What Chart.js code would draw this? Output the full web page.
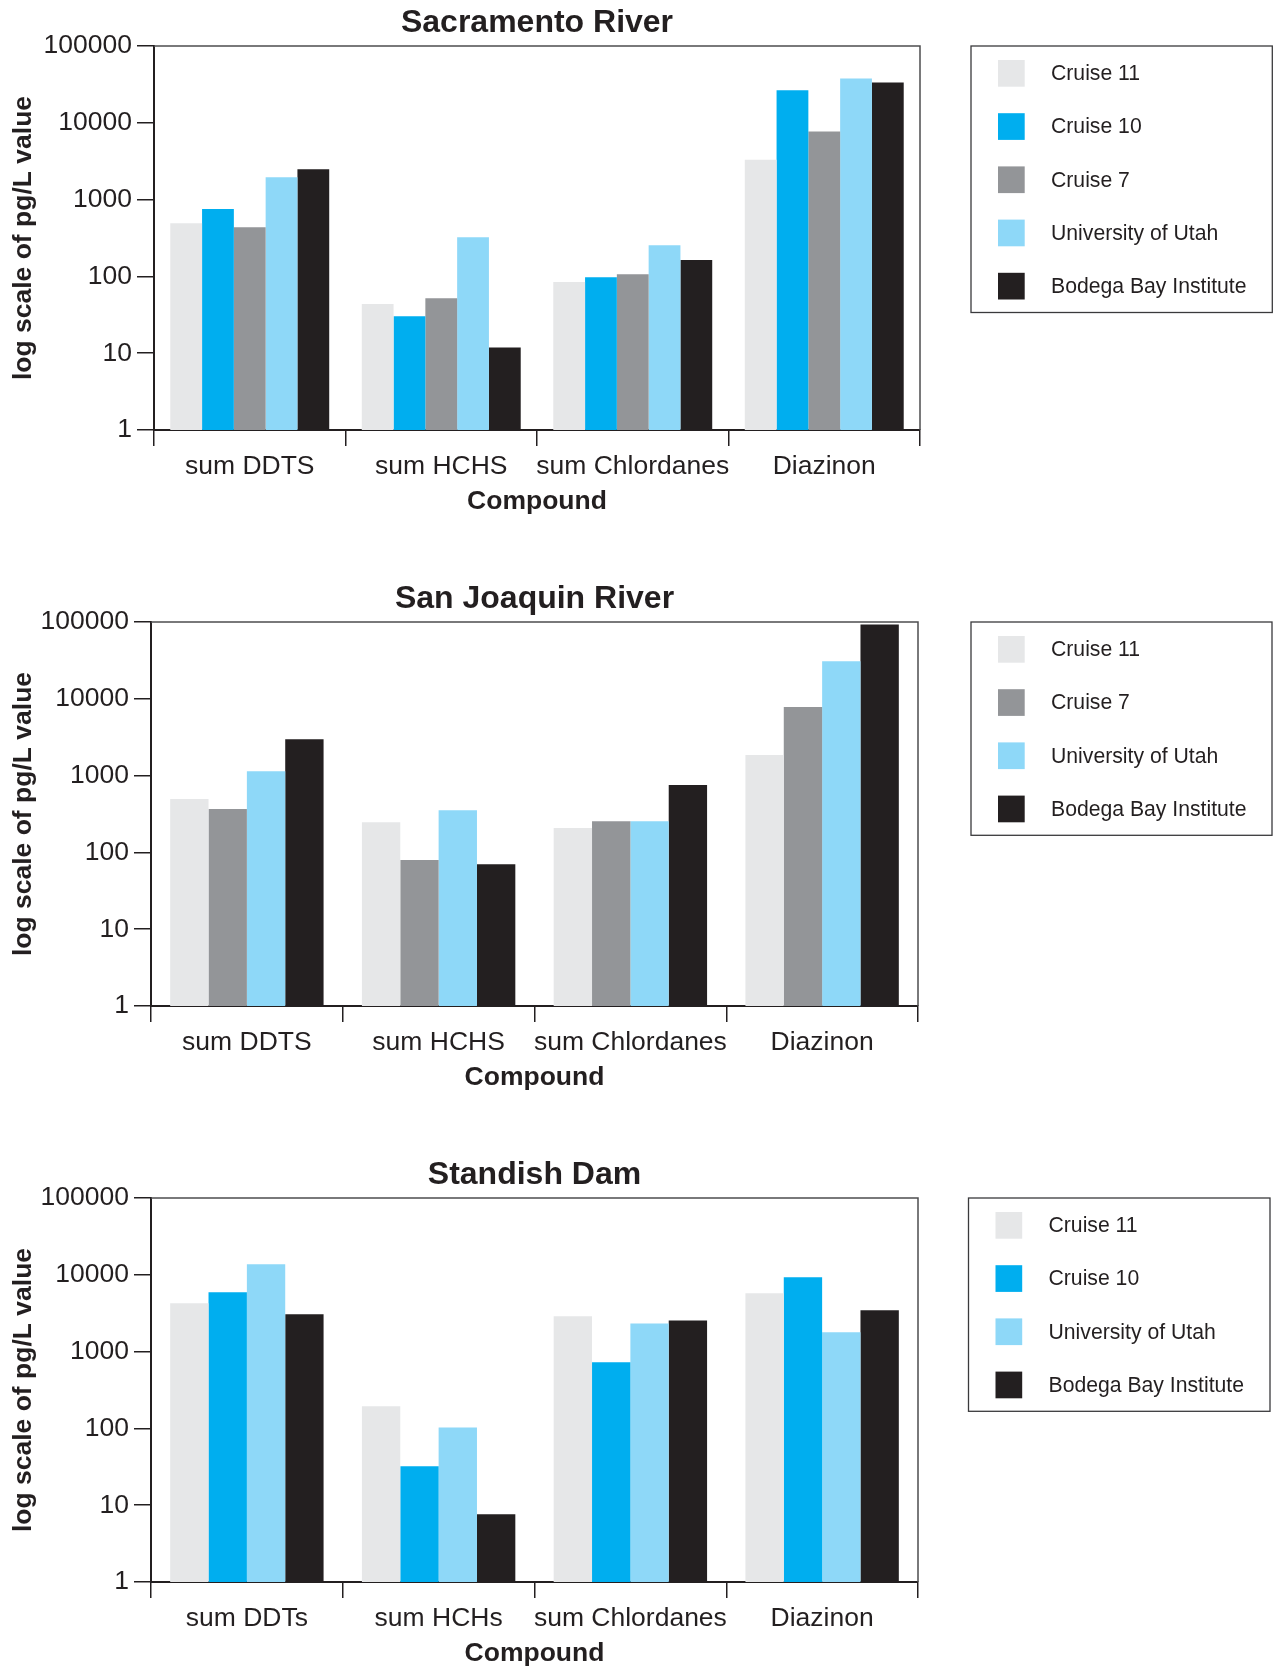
<!DOCTYPE html>
<html>
<head>
<meta charset="utf-8">
<script src="https://cdn.jsdelivr.net/npm/chart.js@4.4.1/dist/chart.umd.min.js"></script>
<style>
  html, body { margin: 0; padding: 0; background: #ffffff; }
  body { width: 1273px; height: 1666px; position: relative; overflow: hidden; }
  .wrap { position: absolute; left: 0; width: 1273px; height: 514px; }
  canvas { display: block; }
</style>
</head>
<body>
<div class="wrap" style="top:0px"><canvas id="c1" width="1273" height="514"></canvas></div>
<div class="wrap" style="top:576px"><canvas id="c2" width="1273" height="514"></canvas></div>
<div class="wrap" style="top:1152px"><canvas id="c3" width="1273" height="514"></canvas></div>
<script>
// ---------------- DATA ----------------
const categoriesRivers = ['sum DDTS', 'sum HCHS', 'sum Chlordanes', 'Diazinon'];
const categoriesDam = ['sum DDTs', 'sum HCHs', 'sum Chlordanes', 'Diazinon'];

const yTickValues = [1, 10, 100, 1000, 10000, 100000];
const yTickLabels = ['1', '10', '100', '1000', '10000', '100000'];

const seriesNames = ['Cruise 11', 'Cruise 10', 'Cruise 7', 'University of Utah', 'Bodega Bay Institute'];

// Sacramento River
const sacCruise11 = [491, 43.7, 84.4, 3300];
const sacCruise10 = [752, 30.3, 97.2, 26500];
const sacCruise7  = [435, 51.9, 106.5, 7700];
const sacUtah     = [1950, 324, 254, 37800];
const sacBodega   = [2480, 11.9, 163, 33500];

// San Joaquin River
const sjCruise11 = [496, 247, 208, 1850];
const sjCruise7  = [366, 79.4, 254, 7800];
const sjUtah     = [1140, 355, 254, 30900];
const sjBodega   = [2980, 70.3, 752, 93100];

// Standish Dam
const sdCruise11 = [4250, 194, 2880, 5740];
const sdCruise10 = [5910, 32.1, 725, 9270];
const sdUtah     = [13680, 103, 2330, 1780];
const sdBodega   = [3060, 7.6, 2550, 3450];

// ---------------- STYLE ----------------
const colors = {
  'Cruise 11': '#e6e7e8',
  'Cruise 10': '#00aeef',
  'Cruise 7': '#939598',
  'University of Utah': '#8ed8f8',
  'Bodega Bay Institute': '#231f20'
};
const FAMILY = '"Liberation Sans", Arial, Helvetica, sans-serif';
const INK = '#231f20';
Chart.defaults.font.family = FAMILY;
Chart.defaults.color = INK;

const frameLegend = {
  id: 'frameLegend',
  afterDraw(chart, args, opts) {
    const { ctx, chartArea: a } = chart;
    ctx.save();
    // top and right frame of the plot
    ctx.strokeStyle = '#4d4d4f';
    ctx.lineWidth = 1.5;
    ctx.beginPath();
    ctx.moveTo(a.left, a.top);
    ctx.lineTo(a.right, a.top);
    ctx.lineTo(a.right, a.bottom);
    ctx.stroke();

    // boxed legend
    const ds = chart.data.datasets;
    const L = opts.left, R = opts.right, T = a.top;
    const pad = 14, sw = 26.7, pitch = 53.2, bottomPad = 13;
    const H = pad + (ds.length - 1) * pitch + sw + bottomPad;
    ctx.lineWidth = 1.3;
    ctx.strokeStyle = '#3a3a3c';
    ctx.strokeRect(L, T, R - L, H);
    ctx.font = '21.2px ' + FAMILY;
    ctx.textBaseline = 'middle';
    ctx.textAlign = 'left';
    ds.forEach((d, i) => {
      const y = T + pad + i * pitch;
      ctx.fillStyle = d.backgroundColor;
      ctx.fillRect(L + 27, y, sw, sw);
      ctx.fillStyle = INK;
      ctx.fillText(d.label, L + 80, y + sw / 2 + 1);
    });
    ctx.restore();
  }
};

function makeDatasets(names, arrays) {
  return names.map((n, i) => ({
    label: n,
    data: arrays[i],
    backgroundColor: colors[n],
    borderWidth: 0
  }));
}

function makeChart(id, title, labels, datasets, cfg) {
  return new Chart(document.getElementById(id), {
    type: 'bar',
    data: { labels: labels, datasets: datasets },
    options: {
      responsive: false,
      animation: false,
      devicePixelRatio: 1,
      layout: { padding: { left: 0, right: cfg.padRight, top: 0, bottom: 0 } },
      datasets: { bar: { categoryPercentage: cfg.catPct, barPercentage: 1.0 } },
      plugins: {
        legend: { display: false },
        tooltip: { enabled: false },
        title: {
          display: true,
          text: title,
          fullSize: false,
          color: INK,
          font: { family: FAMILY, size: 32, weight: 'bold', lineHeight: 1.2 },
          padding: { top: 3.6, bottom: 4 }
        },
        frameLegend: { left: cfg.legLeft, right: cfg.legRight }
      },
      scales: {
        x: {
          type: 'category',
          offset: true,
          grid: { offset: true, drawOnChartArea: false, drawTicks: true, tickLength: 16, color: INK, lineWidth: 1.5 },
          border: { display: true, color: INK, width: 2 },
          ticks: { color: INK, font: { family: FAMILY, size: 26.5 }, padding: 5, maxRotation: 0, minRotation: 0, autoSkip: false },
          title: {
            display: true, text: 'Compound', color: INK,
            font: { family: FAMILY, size: 26.5, weight: 'bold', lineHeight: 0.9 },
            padding: { top: 0, bottom: 0 }
          },
          afterFit: s => { s.height = 84; }
        },
        y: {
          type: 'logarithmic',
          min: 1,
          max: 100000,
          afterBuildTicks: s => { s.ticks = yTickValues.map(v => ({ value: v })); },
          grid: { drawOnChartArea: false, drawTicks: true, tickLength: 17, color: INK, lineWidth: 1.5 },
          border: { display: true, color: INK, width: 2 },
          ticks: {
            color: INK, font: { family: FAMILY, size: 26.5 }, padding: 5,
            callback: (v) => { const k = yTickValues.indexOf(v); return k >= 0 ? yTickLabels[k] : ''; }
          },
          title: {
            display: true, text: 'log scale of pg/L value', color: INK,
            font: { family: FAMILY, size: 26.5, weight: 'bold', lineHeight: 1.2 },
            padding: { top: 8, bottom: 0 }
          },
          afterFit: s => { s.width = cfg.yWidth; }
        }
      }
    },
    plugins: [frameLegend]
  });
}

makeChart('c1', 'Sacramento River', categoriesRivers,
  makeDatasets(['Cruise 11', 'Cruise 10', 'Cruise 7', 'University of Utah', 'Bodega Bay Institute'],
    [sacCruise11, sacCruise10, sacCruise7, sacUtah, sacBodega]),
  { padRight: 353, catPct: 0.83, yWidth: 154, legLeft: 971, legRight: 1272.3 });

makeChart('c2', 'San Joaquin River', categoriesRivers,
  makeDatasets(['Cruise 11', 'Cruise 7', 'University of Utah', 'Bodega Bay Institute'],
    [sjCruise11, sjCruise7, sjUtah, sjBodega]),
  { padRight: 355, catPct: 0.80, yWidth: 151, legLeft: 971, legRight: 1272 });

makeChart('c3', 'Standish Dam', categoriesDam,
  makeDatasets(['Cruise 11', 'Cruise 10', 'University of Utah', 'Bodega Bay Institute'],
    [sdCruise11, sdCruise10, sdUtah, sdBodega]),
  { padRight: 355, catPct: 0.80, yWidth: 151, legLeft: 968.5, legRight: 1270 });
</script>
</body>
</html>
